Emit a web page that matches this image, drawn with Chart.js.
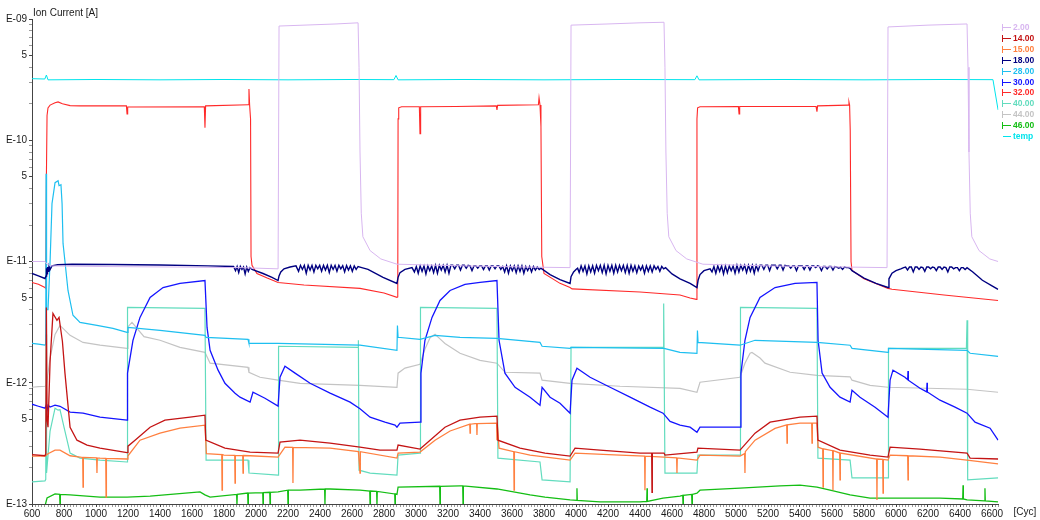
<!DOCTYPE html>
<html>
<head>
<meta charset="utf-8">
<title>Ion Current</title>
<script src="https://cdn.jsdelivr.net/npm/chart.js@4/dist/chart.umd.min.js"></script>
<style>
  html, body { margin: 0; padding: 0; background: #ffffff; }
  #wrap { width: 1040px; height: 520px; position: relative; }
</style>
</head>
<body>
<div id="wrap"><canvas id="c" width="1040" height="520"></canvas></div>
<script>
// ---- series names / colours (legend order) ----
const seriesNames  = ['2.00', '14.00', '15.00', '18.00', '28.00', '30.00', '32.00', '40.00', '44.00', '46.00', 'temp'];
const seriesColors = ['#d8b6f0', '#c41414', '#ff8040', '#000080', '#1ebff0', '#1414ff', '#ff2a2a', '#62dcbe', '#c4c4c4', '#14be14', '#00e4ec'];
const seriesWidths = [1, 1.3, 1.3, 1.4, 1.2, 1.3, 1.1, 1.2, 1.2, 1.3, 1];

// ---- axis ticks ----
const cycleMin = 600, cycleMax = 6640, cycleMinorStep = 20, cycleLabelStep = 200;
const decades      = [1e-13, 1e-12, 1e-11, 1e-10, 1e-9];
const decadeLabels = ['E-13', 'E-12', 'E-11', 'E-10', 'E-09'];

// ---- measured traces: [cycle, ion current in A] ----
const ion2 = [
  [600,1.0e-11],[681,1.0e-11],[694,9.5e-12],[720,9.2e-12],[1000,9.1e-12],[1500,9.0e-12],[1900,8.9e-12],[2138,8.7e-12],
  [2144,8.75e-10],[2300,8.9e-10],[2500,9.1e-10],[2638,9.3e-10],[2644,4e-10],[2650,8e-11],[2658,2.5e-11],[2668,1.6e-11],
  [2713,1.23e-11],[2780,1.05e-11],[2881,9.5e-12],[3300,9.2e-12],[3700,9.0e-12],[3963,8.9e-12],
  [3969,8.9e-10],[4200,9.1e-10],[4400,9.3e-10],[4550,9.4e-10],[4556,4e-10],[4562,8e-11],[4570,2.5e-11],[4580,1.6e-11],
  [4625,1.23e-11],[4692,1.05e-11],[4793,9.5e-12],[5200,9.2e-12],[5700,9.0e-12],[5944,8.9e-12],
  [5950,8.6e-10],[6200,8.9e-10],[6444,9.1e-10],[6450,4e-10],[6456,8e-11],[6464,2.5e-11],[6474,1.6e-11],
  [6519,1.23e-11],[6586,1.05e-11],[6638,1.0e-11]
];

const ion14 = [
  [600,2.55e-13],[681,2.5e-13],[686,2.6e-13],[690,4.18e-12],[694,5.0e-13],[700,4.3e-13],[713,1.5e-12],[731,3.73e-12],
  [756,3.27e-12],[769,3.46e-12],[790,2.2e-12],[806,1.2e-12],[838,4.3e-13],[881,3.36e-13],[944,3.06e-13],[1025,2.89e-13],
  [1194,2.65e-13],[1200,3.0e-13],[1244,3.36e-13],[1338,4.3e-13],[1431,4.91e-13],[1588,5.2e-13],[1681,5.4e-13],
  [1686,3.36e-13],[1806,2.89e-13],[1963,2.68e-13],[2138,2.63e-13],[2150,3.24e-13],[2275,3.36e-13],[2463,3.18e-13],
  [2650,2.94e-13],[2775,2.78e-13],[2881,2.78e-13],[2888,3.06e-13],[3025,2.84e-13],[3088,3.36e-13],[3181,4.3e-13],
  [3275,4.91e-13],[3400,5.2e-13],[3506,5.3e-13],[3512,3.36e-13],[3650,2.89e-13],[3806,2.63e-13],[3963,2.48e-13],
  [3994,2.89e-13],[4150,2.78e-13],[4400,2.63e-13],[4473,2.63e-13],[4475,1.25e-13],[4477,2.63e-13],[4550,2.63e-13],
  [4556,2.53e-13],[4756,2.68e-13],[4762,2.89e-13],[5025,2.78e-13],[5119,3.84e-13],[5213,4.73e-13],[5400,5.2e-13],
  [5506,5.3e-13],[5512,3.36e-13],[5650,2.78e-13],[5838,2.53e-13],[5950,2.44e-13],[5963,2.94e-13],[6150,2.84e-13],
  [6444,2.63e-13],[6463,2.39e-13],[6638,2.35e-13]
];

const ion15 = [
  [600,2.48e-13],[681,2.48e-13],[700,2.6e-13],[744,2.78e-13],[775,2.78e-13],[838,2.5e-13],
  [917,2.42e-13],[919,1.38e-13],[921,2.42e-13],[1004,2.4e-13],[1006,1.8e-13],[1008,2.4e-13],[1025,2.39e-13],
  [1061,2.38e-13],[1063,1.14e-13],[1065,2.38e-13],[1194,2.35e-13],[1200,2.5e-13],[1275,3.36e-13],[1400,3.84e-13],
  [1525,4.22e-13],[1681,4.47e-13],[1690,2.6e-13],[1786,2.55e-13],[1788,1.3e-13],[1790,2.55e-13],[1800,2.53e-13],
  [1867,2.52e-13],[1869,1.49e-13],[1871,2.52e-13],[1917,2.51e-13],[1919,1.8e-13],[1921,2.51e-13],[1963,2.5e-13],
  [2138,2.44e-13],[2181,2.94e-13],[2229,2.93e-13],[2231,1.49e-13],[2233,2.93e-13],[2463,2.89e-13],[2640,2.7e-13],
  [2650,1.8e-13],[2652,2.7e-13],[2881,2.39e-13],[2888,2.63e-13],[3025,2.68e-13],[3119,3.36e-13],[3213,4.0e-13],
  [3336,4.55e-13],[3338,3.84e-13],[3340,4.55e-13],[3369,4.6e-13],[3379,4.6e-13],[3381,3.7e-13],[3383,4.6e-13],
  [3504,4.64e-13],[3506,3.36e-13],[3508,4.64e-13],[3519,2.89e-13],[3611,2.7e-13],[3613,1.3e-13],[3615,2.7e-13],
  [3713,2.53e-13],[3963,2.3e-13],[3994,2.63e-13],[4275,2.53e-13],[4429,2.48e-13],[4431,1.3e-13],[4433,2.48e-13],
  [4550,2.44e-13],[4629,2.4e-13],[4631,1.8e-13],[4633,2.4e-13],[4756,2.3e-13],[4775,2.53e-13],[5025,2.48e-13],
  [5054,2.6e-13],[5056,1.8e-13],[5058,2.7e-13],[5119,3.36e-13],[5244,4.2e-13],[5317,4.5e-13],[5319,3.18e-13],
  [5321,4.5e-13],[5400,4.64e-13],[5473,4.64e-13],[5475,3.18e-13],[5477,4.64e-13],[5506,4.64e-13],[5513,2.94e-13],
  [5542,2.85e-13],[5544,1.38e-13],[5546,2.85e-13],[5604,2.75e-13],[5606,1.3e-13],[5608,2.75e-13],[5648,2.63e-13],
  [5650,1.58e-13],[5652,2.63e-13],[5879,2.35e-13],[5881,1.08e-13],[5883,2.35e-13],[5917,2.33e-13],[5919,1.23e-13],
  [5921,2.33e-13],[5950,2.3e-13],[5963,2.53e-13],[6073,2.5e-13],[6075,1.58e-13],[6077,2.5e-13],[6275,2.44e-13],
  [6444,2.3e-13],[6638,2.14e-13]
];

// mass 18: slow trend between the noisy stretches
const ion18 = [
  [600,7.96e-12],[640,7.6e-12],[681,7.24e-12],[688,7.6e-12],[691,8.8e-12],[694,7.9e-12],[697,9.0e-12],[700,8.3e-12],
  [706,9.1e-12],[713,8.6e-12],[725,9.2e-12],[760,9.4e-12],[850,9.5e-12],[1100,9.45e-12],[1400,9.35e-12],[1700,9.2e-12],
  [1860,9.1e-12],
  [1975,8.6e-12],[2044,7.96e-12],[2100,7.4e-12],[2138,6.97e-12],[2144,7.6e-12],[2155,8.2e-12],[2175,8.7e-12],
  [2213,9.0e-12],[2250,9.2e-12],
  [2650,9.0e-12],[2700,8.6e-12],[2794,7.4e-12],[2881,6.59e-12],[2888,7.4e-12],[2900,8.1e-12],[2931,8.6e-12],[2975,8.9e-12],
  [3780,8.8e-12],[3838,7.8e-12],[3900,7.1e-12],[3963,6.59e-12],[3969,7.5e-12],[3985,8.2e-12],[4000,8.6e-12],[4010,8.8e-12],
  [4560,8.9e-12],[4600,7.9e-12],[4650,7.2e-12],[4713,6.6e-12],[4756,6.1e-12],[4763,7.0e-12],[4775,7.8e-12],
  [4800,8.4e-12],[4838,8.7e-12],
  [5713,8.8e-12],[5725,8.4e-12],[5800,7.3e-12],[5875,6.6e-12],[5950,6.1e-12],[5956,7.2e-12],[5975,8.0e-12],
  [6000,8.4e-12],[6030,8.7e-12],[6048,8.9e-12],
  [6444,8.9e-12],[6480,8.2e-12],[6540,7.0e-12],[6600,6.3e-12],[6638,5.88e-12]
];
// mass 18: noisy stretches, sampled at a fixed cycle step, values in pA
const ion18Noise = [
  { from: 1872, step: 10, pA: [8.4,9.1,8.1,9.1,8.6,9.0,7.9,9.0,8.3,8.9] },
  { from: 2266, step: 12, pA: [8.3,9.3,8.6,9.3,8.0,9.3,8.5,9.3,8.2,9.3,8.7,9.3,8.3,9.3,8.5,9.3,8.1,9.3,8.6,9.3,8.3,9.3,8.7,9.25,8.2,9.25,8.5,9.2,8.3,9.2,8.6,9.1] },
  { from: 2990, step: 12, pA: [8.2,9.1,8.0,9.2,8.3,9.2,7.9,9.2,8.4,9.2,8.1,9.3,8.0,9.3,8.5,9.3,8.2,9.3,8.0,9.3,
                               9.3,8.7,9.3,9.3,8.5,9.3,9.3,8.8,9.3,9.2,8.4,9.2,9.2,8.8,9.2,9.2,8.6,9.2,9.2,8.5,9.2,9.2,8.7,9.2,9.2,8.6,
                               9.1,8.2,9.2,8.0,9.2,8.4,9.2,8.1,9.2,8.3,9.2,8.0,9.1,8.4,9.1,8.2,9.1,8.5,9.0,8.6] },
  { from: 4020, step: 12, pA: [8.1,9.2,8.3,9.2,7.9,9.2,8.2,9.2,8.0,9.3,8.4,9.3,8.1,9.3,7.9,9.3,8.3,9.3,8.0,9.3,8.2,9.3,8.4,
                               9.3,8.1,9.3,8.0,9.3,8.3,9.2,8.1,9.2,8.5,9.2,8.0,9.2,8.3,9.2,8.2,9.2,8.6,9.1,8.3,9.1,8.7] },
  { from: 4850, step: 12, pA: [8.2,9.1,8.0,9.2,8.3,9.2,7.9,9.2,8.1,9.2,8.4,9.2,8.0,9.3,8.2,9.3,8.5,9.3,8.1,9.3,8.3,9.3,8.0,9.3,8.4,9.3,
                               9.3,8.6,9.3,9.3,8.4,9.3,9.3,9.3,8.7,9.3,9.3,8.5,9.3,9.2,9.2,8.8,9.2,9.2,8.4,9.2,9.2,9.2,8.6,9.2,
                               9.2,8.5,9.2,9.2,8.9,9.2,9.1,8.4,9.1,9.1,8.7,9.1,9.1,8.5,9.1,9.0,8.8,9.0,8.6,9.0,8.9,8.9] },
  { from: 6060, step: 12, pA: [9.0,8.5,9.0,9.0,8.2,9.0,9.0,8.6,9.0,8.9,8.3,9.0,9.0,8.7,9.0,8.9,8.4,9.0,9.0,8.6,9.0,8.9,8.2,9.0,
                               9.0,8.7,8.9,8.9,8.4,8.9,8.9,8.6] }
];

const ion28 = [
  [600,2.11e-12],[640,2.08e-12],[681,2.04e-12],[686,2.1e-12],[688,5.3e-11],[691,4.0e-12],[700,4.0e-12],[713,1.0e-11],
  [725,3.0e-11],[744,4.47e-11],[763,4.64e-11],[769,4.22e-11],[781,4.3e-11],[788,3.0e-11],[794,1.41e-11],[806,1.0e-11],
  [825,5.77e-12],[856,3.6e-12],[900,3.15e-12],[1006,2.97e-12],[1106,2.81e-12],[1194,2.6e-12],[1200,2.86e-12],
  [1400,2.7e-12],[1681,2.46e-12],[1688,2.37e-12],[1950,2.28e-12],[1956,2.11e-12],[2138,2.11e-12],[2650,2.04e-12],
  [2881,1.85e-12],[2884,2.97e-12],[2888,2.37e-12],[3025,2.28e-12],[3119,2.46e-12],[3275,2.37e-12],[3506,2.32e-12],
  [3775,2.15e-12],[3788,2.0e-12],[3963,1.92e-12],[3969,1.96e-12],[4550,1.92e-12],[4650,1.78e-12],[4756,1.75e-12],
  [4759,2.7e-12],[4763,2.15e-12],[5025,2.04e-12],[5119,2.24e-12],[5506,2.15e-12],[5713,2.04e-12],[5725,1.92e-12],
  [5950,1.78e-12],[5953,1.92e-12],[6444,1.85e-12],[6463,1.75e-12],[6638,1.65e-12]
];

const ion30 = [
  [600,6.65e-13],[640,6.4e-13],[681,6.17e-13],[688,6.5e-13],[694,5.9e-13],[700,6.53e-13],[713,6.3e-13],[744,6.53e-13],
  [775,6.4e-13],[838,5.72e-13],[919,5.61e-13],[1025,5.2e-13],[1194,4.91e-13],[1197,1.2e-12],[1231,2.24e-12],
  [1275,3.46e-12],[1338,5.06e-12],[1419,6.1e-12],[1525,6.59e-12],[1681,6.97e-12],[1694,2.86e-12],[1713,1.85e-12],
  [1763,1.27e-12],[1806,9.9e-13],[1869,8.2e-13],[1900,7.6e-13],[1963,6.92e-13],[1981,8.35e-13],[2056,7.45e-13],
  [2138,6.41e-13],[2150,1.11e-12],[2181,1.37e-12],[2244,1.2e-12],[2338,9.9e-13],[2463,8.2e-13],[2588,6.92e-13],
  [2650,6.1e-13],[2713,5.2e-13],[2806,4.73e-13],[2869,4.47e-13],[2881,4.3e-13],[2900,4.64e-13],[3025,4.73e-13],
  [3031,1.2e-12],[3056,2.24e-12],[3100,3.46e-12],[3150,4.77e-12],[3213,5.77e-12],[3306,6.47e-12],[3400,6.72e-12],
  [3506,6.97e-12],[3519,2.24e-12],[3556,1.2e-12],[3619,9.18e-13],[3713,7.6e-13],[3775,6.53e-13],[3788,9.18e-13],
  [3838,7.6e-13],[3900,6.78e-13],[3963,5.61e-13],[3975,1.05e-12],[4006,1.32e-12],[4088,1.11e-12],[4213,9.18e-13],
  [4338,7.6e-13],[4463,6.29e-13],[4544,5.61e-13],[4588,4.8e-13],[4650,4.47e-13],[4713,4.3e-13],[4756,3.91e-13],
  [4775,4.3e-13],[5025,4.3e-13],[5031,1.2e-12],[5056,2.24e-12],[5088,3.46e-12],[5150,5.06e-12],[5244,6.1e-12],
  [5369,6.59e-12],[5506,6.72e-12],[5513,2.24e-12],[5538,1.2e-12],[5588,9.18e-13],[5650,7.6e-13],[5713,6.92e-13],
  [5725,8.67e-13],[5775,7.6e-13],[5869,6.29e-13],[5950,5.2e-13],[5963,1.05e-12],[5981,1.27e-12],[6056,1.11e-12],
  [6073,1.06e-12],[6075,1.25e-12],[6077,1.05e-12],[6150,9.0e-13],[6192,8.4e-13],[6194,1.0e-12],[6196,8.4e-13],
  [6275,7.18e-13],[6369,6.29e-13],[6444,5.61e-13],[6494,4.73e-13],[6588,4.22e-13],[6638,3.36e-13]
];

const ion32 = [
  [600,6.72e-12],[640,6.5e-12],[681,6.1e-12],[686,6.0e-12],[690,5.0e-11],[694,1.6e-10],[700,1.85e-10],[713,1.95e-10],
  [744,2.04e-10],[763,2.07e-10],[790,2.0e-10],[838,1.93e-10],[900,1.92e-10],[1190,1.92e-10],[1194,1.65e-10],
  [1198,1.88e-10],[1677,1.89e-10],[1681,1.27e-10],[1685,1.92e-10],[1952,1.96e-10],[1956,2.65e-10],[1960,1.96e-10],
  [1966,1.5e-10],[1969,1.1e-11],[1975,9.3e-12],[2006,7.96e-12],[2070,7.3e-12],[2138,6.72e-12],[2300,6.4e-12],
  [2650,6.0e-12],[2800,5.5e-12],[2881,5.06e-12],[2886,5.1e-12],[2888,1.5e-10],[2892,1.85e-10],[2910,1.89e-10],
  [3021,1.89e-10],[3025,1.13e-10],[3029,1.89e-10],[3250,1.9e-10],[3502,1.92e-10],[3506,1.78e-10],[3510,1.94e-10],
  [3765,1.96e-10],[3769,2.24e-10],[3775,1.95e-10],[3781,1.3e-10],[3786,1.1e-11],[3800,7.96e-12],[3900,6.6e-12],
  [3963,6.1e-12],[3975,5.95e-12],[4400,5.6e-12],[4650,5.3e-12],[4713,5.0e-12],[4752,4.87e-12],[4756,1.5e-10],
  [4760,1.85e-10],[4775,1.89e-10],[5015,1.9e-10],[5019,1.65e-10],[5023,1.9e-10],[5500,1.9e-10],[5506,1.72e-10],
  [5510,1.92e-10],[5700,1.95e-10],[5706,2.07e-10],[5710,1.95e-10],[5714,1.2e-10],[5719,1.0e-11],[5725,8.43e-12],
  [5800,7.2e-12],[5950,6.0e-12],[5975,5.9e-12],[6300,5.3e-12],[6638,4.77e-12]
];

const ion40 = [
  [600,1.52e-13],[681,1.55e-13],[686,1.6e-13],[688,2.5e-12],[691,1.8e-13],[713,4.0e-13],[744,6.17e-13],[763,5.94e-13],
  [775,6.0e-13],[800,4.3e-13],[838,2.63e-13],[900,2.39e-13],[1025,2.3e-13],[1194,2.22e-13],[1197,4.18e-12],
  [1681,4.1e-12],[1688,2.3e-13],[1950,2.3e-13],[1956,1.8e-13],[2138,1.73e-13],[2141,2.0e-12],[2638,1.96e-12],
  [2640,2.24e-12],[2644,1.9e-13],[2713,1.8e-13],[2881,1.73e-13],[2888,2.53e-13],[3025,2.63e-13],[3028,4.18e-12],
  [3506,4.1e-12],[3512,2.39e-13],[3775,2.22e-13],[3788,1.58e-13],[3963,1.52e-13],[3969,1.96e-12],[4544,1.96e-12],
  [4548,4.5e-12],[4556,1.8e-13],[4756,1.8e-13],[4762,2.53e-13],[5025,2.53e-13],[5028,4.18e-12],[5506,4.1e-12],
  [5512,2.39e-13],[5713,2.3e-13],[5725,1.64e-13],[5950,1.64e-13],[5953,1.92e-12],[6440,1.92e-12],[6444,3.27e-12],
  [6448,1.58e-13],[6638,1.64e-13]
];

const ion44 = [
  [600,9.18e-13],[640,9.3e-13],[681,9.36e-13],[690,9.5e-13],[713,1.6e-12],[744,2.5e-12],[775,2.97e-12],[838,2.46e-12],
  [919,2.15e-12],[1025,2.04e-12],[1194,1.92e-12],[1200,2.9e-12],[1225,3.15e-12],[1300,2.4e-12],[1400,2.24e-12],
  [1525,1.96e-12],[1681,1.78e-12],[1713,1.45e-12],[1950,1.34e-12],[1956,1.22e-12],[2025,1.11e-12],[2138,1.05e-12],
  [2275,9.9e-13],[2650,9.53e-13],[2881,9.18e-13],[2888,1.2e-12],[2931,1.32e-12],[3025,1.42e-12],[3056,1.9e-12],
  [3088,2.35e-12],[3119,2.51e-12],[3150,2.3e-12],[3181,2.11e-12],[3275,1.75e-12],[3400,1.53e-12],[3506,1.45e-12],
  [3556,1.22e-12],[3775,1.2e-12],[3788,1.05e-12],[3963,9.9e-13],[4275,9.36e-13],[4650,9.0e-13],[4756,8.35e-13],
  [4775,1.01e-12],[5025,1.11e-12],[5056,1.45e-12],[5088,1.75e-12],[5100,1.78e-12],[5150,1.6e-12],[5181,1.45e-12],
  [5338,1.22e-12],[5506,1.15e-12],[5713,1.12e-12],[5725,1.05e-12],[5838,9.53e-13],[5950,9.18e-13],[6444,8.84e-13],
  [6638,8.35e-13]
];

const ion46 = [
  [680,9.5e-14],[694,1.12e-13],[744,1.21e-13],[773,1.2e-13],[775,9.8e-14],[777,1.2e-13],[838,1.19e-13],[1025,1.14e-13],
  [1194,1.14e-13],[1338,1.16e-13],[1650,1.26e-13],[1681,1.19e-13],[1713,1.14e-13],[1879,1.2e-13],[1881,9.8e-14],
  [1883,1.2e-13],[1948,1.23e-13],[1950,9.8e-14],[1952,1.23e-13],[2042,1.24e-13],[2044,1.0e-13],[2046,1.24e-13],
  [2086,1.25e-13],[2088,9.8e-14],[2090,1.25e-13],[2138,1.26e-13],[2198,1.3e-13],[2200,9.8e-14],[2202,1.3e-13],
  [2275,1.3e-13],[2429,1.33e-13],[2431,9.8e-14],[2433,1.33e-13],[2463,1.33e-13],[2650,1.3e-13],[2711,1.28e-13],
  [2713,9.8e-14],[2715,1.28e-13],[2754,1.27e-13],[2756,9.8e-14],[2758,1.27e-13],[2867,1.21e-13],[2869,9.8e-14],
  [2871,1.21e-13],[2881,1.2e-13],[2888,1.38e-13],[3148,1.4e-13],[3150,9.8e-14],[3152,1.4e-13],[3275,1.41e-13],
  [3292,1.41e-13],[3294,9.8e-14],[3296,1.41e-13],[3506,1.33e-13],[3713,1.19e-13],[3806,1.14e-13],[3963,1.08e-13],
  [4004,1.07e-13],[4006,1.35e-13],[4008,1.07e-13],[4150,1.04e-13],[4400,1.04e-13],[4442,1.05e-13],[4444,1.35e-13],
  [4446,1.05e-13],[4544,1.12e-13],[4650,1.16e-13],[4667,1.18e-13],[4669,9.8e-14],[4671,1.18e-13],[4723,1.2e-13],
  [4725,9.8e-14],[4727,1.2e-13],[4756,1.23e-13],[4775,1.3e-13],[5025,1.35e-13],[5275,1.41e-13],[5400,1.43e-13],
  [5506,1.38e-13],[5588,1.3e-13],[5713,1.19e-13],[5838,1.12e-13],[5950,1.12e-13],[6275,1.12e-13],[6417,1.1e-13],
  [6419,1.43e-13],[6421,1.1e-13],[6444,1.08e-13],[6554,1.06e-13],[6556,1.35e-13],[6558,1.06e-13],[6638,1.04e-13]
];

const tempTrace = [
  [600,3.22e-10],[680,3.2e-10],[690,3.45e-10],[700,3.15e-10],[1000,3.17e-10],[1400,3.15e-10],[1800,3.17e-10],
  [2200,3.15e-10],[2600,3.17e-10],[2862,3.16e-10],[2875,3.42e-10],[2888,3.15e-10],[3300,3.17e-10],[3800,3.15e-10],
  [4300,3.17e-10],[4743,3.16e-10],[4756,3.4e-10],[4769,3.15e-10],[5300,3.17e-10],[5800,3.15e-10],[6300,3.17e-10],
  [6606,3.16e-10],[6638,1.78e-10]
];

// ---- assemble datasets ----
function toPoints(pairs) { return pairs.map(p => ({ x: p[0], y: p[1] })); }

const ion18All = ion18.slice();
ion18Noise.forEach(seg => seg.pA.forEach((v, i) => ion18All.push([seg.from + i * seg.step, v * 1e-12])));
ion18All.sort((a, b) => a[0] - b[0]);

const traces = [ion2, ion14, ion15, ion18All, ion28, ion30, ion32, ion40, ion44, ion46, tempTrace];

const datasets = traces.map((t, i) => ({
  label: seriesNames[i],
  data: toPoints(t),
  borderColor: seriesColors[i],
  backgroundColor: seriesColors[i],
  borderWidth: seriesWidths[i],
  pointRadius: 0,
  tension: 0,
  fill: false
}));

// ---- text drawn around the plot: axis caption, unit, side legend ----
const FONT = '"Liberation Sans", Arial, Helvetica, sans-serif';
const sideText = {
  id: 'sideText',
  afterDraw(chart) {
    const ctx = chart.ctx;
    const area = chart.chartArea;
    ctx.save();
    ctx.fillStyle = '#1a1a1a';
    ctx.font = '10px ' + FONT;
    ctx.textAlign = 'left';
    ctx.textBaseline = 'alphabetic';
    ctx.fillText('Ion Current [A]', area.left + 1, area.top - 3);
    ctx.textBaseline = 'middle';
    ctx.fillText('[Cyc]', area.right + 15, area.bottom + 8);

    ctx.font = 'bold 8.5px ' + FONT;
    seriesNames.forEach((name, i) => {
      const y = Math.round(27 + i * 10.9) + 0.5;
      ctx.strokeStyle = seriesColors[i];
      ctx.lineWidth = 1;
      ctx.beginPath();
      if (name !== 'temp') {
        ctx.moveTo(1002.5, y - 3.5);
        ctx.lineTo(1002.5, y + 3.5);
        ctx.moveTo(1002.5, y);
      } else {
        ctx.moveTo(1003, y);
      }
      ctx.lineTo(1011, y);
      ctx.stroke();
      ctx.fillStyle = seriesColors[i];
      ctx.fillText(name, 1013, y + 0.5);
    });
    ctx.restore();
  }
};

const isClose = (a, b) => Math.abs(a / b - 1) < 1e-6;

new Chart(document.getElementById('c'), {
  type: 'line',
  data: { datasets },
  options: {
    responsive: false,
    devicePixelRatio: 1,
    animation: false,
    normalized: true,
    layout: { padding: { top: 19, right: 41.6, bottom: 0, left: 0 } },
    plugins: { legend: { display: false }, tooltip: { enabled: false }, title: { display: false } },
    scales: {
      x: {
        type: 'linear',
        min: cycleMin,
        max: cycleMax,
        afterBuildTicks(scale) {
          const t = [];
          for (let v = cycleMin; v <= cycleMax; v += cycleMinorStep) t.push({ value: v });
          scale.ticks = t;
        },
        afterFit(scale) { scale.height = 16; },
        ticks: {
          autoSkip: false,
          maxRotation: 0,
          padding: 1,
          color: '#1a1a1a',
          font: { family: FONT, size: 10 },
          callback: v => (v % cycleLabelStep === 0 && v <= 6600) ? String(v) : ''
        },
        grid: {
          drawOnChartArea: false,
          drawTicks: true,
          tickLength: 3,
          color: c => (c.tick && c.tick.value % cycleLabelStep === 0) ? '#444' : '#9a9a9a'
        },
        border: { display: true, color: '#444', width: 1 }
      },
      y: {
        type: 'logarithmic',
        min: decades[0],
        max: decades[decades.length - 1],
        afterBuildTicks(scale) {
          const t = [];
          decades.forEach((d, i) => {
            const top = (i === decades.length - 1) ? 1 : 9;
            for (let m = 1; m <= top; m++) t.push({ value: m * d });
          });
          scale.ticks = t;
        },
        afterFit(scale) { scale.width = 32; },
        ticks: {
          autoSkip: false,
          padding: 2,
          color: '#1a1a1a',
          font: { family: FONT, size: 10 },
          callback: v => {
            const k = decades.findIndex(d => isClose(v, d));
            if (k >= 0) return decadeLabels[k];
            if (decades.some(d => isClose(v, 5 * d))) return '5';
            return '';
          }
        },
        grid: {
          drawOnChartArea: false,
          drawTicks: true,
          tickLength: 3,
          color: c => {
            const v = c.tick ? c.tick.value : 0;
            return decades.some(d => isClose(v, d) || isClose(v, 5 * d)) ? '#444' : '#9a9a9a';
          }
        },
        border: { display: true, color: '#444', width: 1 }
      }
    }
  },
  plugins: [sideText]
});
</script>
</body>
</html>
